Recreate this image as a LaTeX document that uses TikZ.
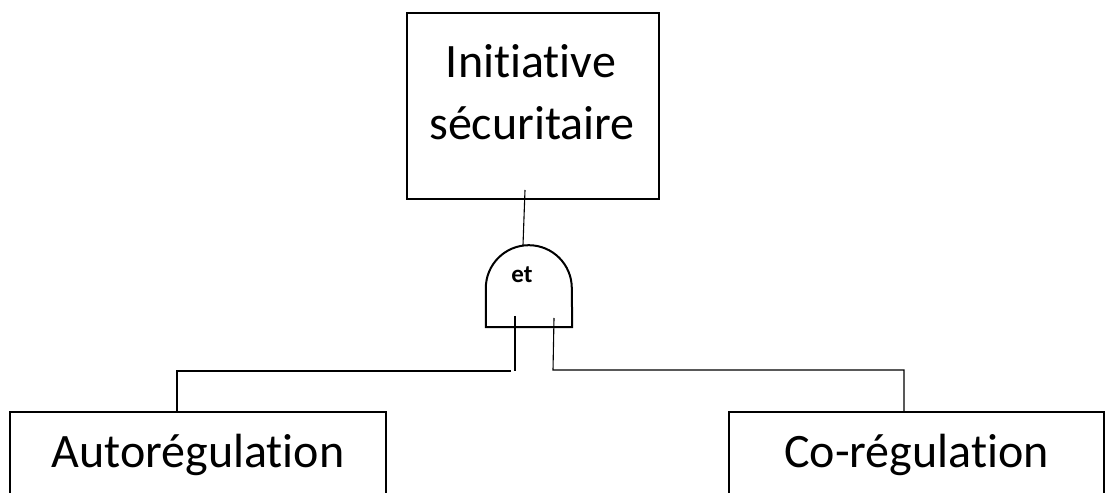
\documentclass[tikz,border=0pt]{standalone}
\usepackage{fontspec}
\setmainfont[Ligatures=NoCommon]{Carlito}
\begin{document}
\begin{tikzpicture}[x=1pt,y=1pt,
  box/.style={draw=black,line width=2pt,inner sep=0pt},
  bigtext/.style={font=\fontsize{48}{62}\selectfont,anchor=base,inner sep=0pt},
  wire/.style={draw=black,line width=1.1pt},
  gateline/.style={draw=black,line width=2pt,line join=miter}]
\useasboundingbox (0,0) rectangle (1107,492);
\clip (0,0) rectangle (1107,492);

% top event
\node[box,minimum width=252,minimum height=186] (top) at (533,386) {};
\node[bigtext] (topA) at (531,414) {Initiative};
\node[bigtext] (topB) at (532,352) {sécuritaire};

% AND gate
\node[minimum width=86,minimum height=82,inner sep=0pt] (gate) at (529,206) {};
\draw[gateline] (gate.south west) -- ++(0,39)
  arc[start angle=180,end angle=0,radius=43] -- (gate.south east) -- cycle;
\node[font=\fontsize{25}{28}\selectfont\bfseries,anchor=base,inner sep=0pt] (et) at (522,209) {et};

% basic events
\node[box,minimum width=376,minimum height=100] (auto) at (198,30) {};
\node[bigtext] (autoT) at (198,24) {Autorégulation};
\node[box,minimum width=375,minimum height=100] (co) at (916.5,30) {};
\node[bigtext] (coT) at (916.5,24) {Co-régulation};

% connectors
\coordinate (topfoot) at (525,302);
\coordinate (gtop) at (523,247);
\coordinate (inL) at (515,176);
\coordinate (inLb) at (515,121);
\coordinate (hL) at (511,121);
\coordinate (inR) at (554,174);
\coordinate (inRb) at (553,122);
\draw[wire] (topfoot) -- (gtop);
\draw[wire] (inL) -- (inLb);
\draw[wire] (hL) -- (177,121) -- (177,80);
\draw[wire] (inR) -- (inRb) -- (904,122) -- (904,80);
\end{tikzpicture}
\end{document}
